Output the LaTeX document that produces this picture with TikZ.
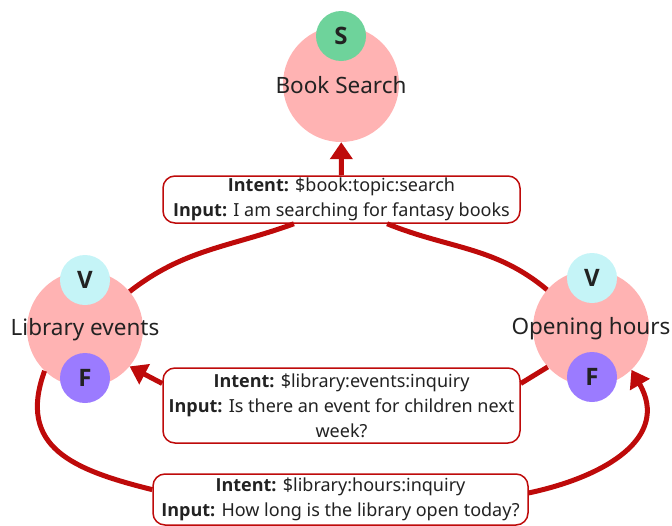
\documentclass[tikz,border=0pt]{standalone}
\usepackage{fontspec}
\setmainfont{Noto Sans}
\newfontfamily\bfam{Open Sans}
\newcommand\BB[1]{{\bfam\bfseries #1}}
\usetikzlibrary{arrows.meta}
\definecolor{pinkc}{HTML}{FFB3B3}
\definecolor{greenc}{HTML}{6ED39B}
\definecolor{cyanc}{HTML}{C5F4F7}
\definecolor{purplec}{HTML}{9B7BFF}
\definecolor{edgec}{HTML}{BE0A0A}
\definecolor{textc}{HTML}{222222}
\begin{document}
\begin{tikzpicture}[x=1pt,y=-1pt,
  state/.style={circle, fill=pinkc, minimum size=116pt, inner sep=0pt},
  statetext/.style={font=\fontsize{22.5}{26}\selectfont, text=textc, inner sep=0pt},
  badge/.style={circle, minimum size=50pt, inner sep=0pt, font=\fontsize{24}{26}\selectfont\bfam\bfseries, text=textc},
  lbl/.style={draw=edgec, line width=1.5pt, rounded corners=12pt, fill=white, align=center, inner sep=0pt,
    font=\fontsize{18}{25}\selectfont, text=textc},
  conn/.style={draw=edgec, line width=5pt},
  arr/.style={conn, -{Triangle[length=17pt,width=22pt]}}
]
\useasboundingbox (0,0) rectangle (672,525);
% states
\node[state] (book) at (341,84) {};
\node[state] (lib) at (85,329) {};
\node[state] (open) at (591,328) {};
% labels
\node[lbl, minimum width=357pt, minimum height=47pt] (l1) at (341.5,199.5)
  {\BB{Intent:} \$book:topic:search\\ \BB{Input:} I am searching for fantasy books};
\node[lbl, minimum width=357pt, minimum height=75pt] (l2) at (341.5,405.5)
  {\BB{Intent:} \$library:events:inquiry\\ \BB{Input:} Is there an event for children next\\ week?};
\node[lbl, minimum width=375pt, minimum height=51pt] (l3) at (340.5,499.5)
  {\BB{Intent:} \$library:hours:inquiry\\ \BB{Input:} How long is the library open today?};
% connectors
\draw[conn] (lib.40) to[out=38, in=200] (l1.207);
\draw[conn] (open.139) to[out=140, in=-22] (l1.-28);
\draw[arr] (l1) -- (book);
\draw[conn] (open.222) -- (l2.7);
\draw[arr] (l2.173) -- (lib.-40);
\draw[conn] (lib.226) to[out=250, in=166, looseness=1.3] (l3.177);
\draw[arr] (l3.2) to[out=12, in=-60, looseness=1.25] (open.-46);
% texts and badges
\node[statetext] (booktxt) at (341,85) {Book Search};
\node[statetext] (libtxt) at (85,330) {Library events};
\node[statetext] (opentxt) at (591,329) {Opening hours};
\node[badge, fill=greenc] (s) at (341,36) {S};
\node[badge, fill=cyanc] (libv) at (85,280) {V};
\node[badge, fill=purplec] (libf) at (85,378) {F};
\node[badge, fill=cyanc] (openv) at (592,278) {V};
\node[badge, fill=purplec] (openf) at (592,377) {F};
\end{tikzpicture}
\end{document}
